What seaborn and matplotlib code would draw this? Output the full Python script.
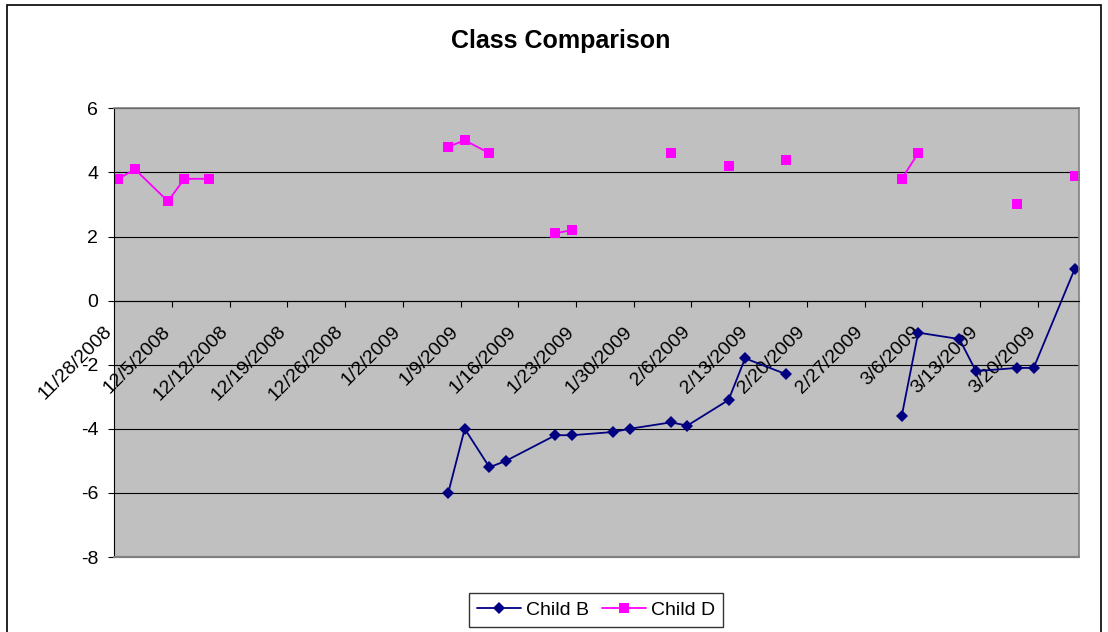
import numpy as np
import pandas as pd
import matplotlib
matplotlib.use("Agg")
import matplotlib.pyplot as plt
import seaborn as sns
from matplotlib.transforms import ScaledTranslation
from matplotlib.patches import Rectangle

# ---- data ----
dates = ["11/28/2008", "11/30/2008", "12/4/2008", "12/6/2008", "12/9/2008", "12/16/2008",
         "1/7/2009", "1/9/2009", "1/12/2009", "1/14/2009", "1/20/2009", "1/22/2009",
         "1/27/2009", "1/29/2009", "2/3/2009", "2/5/2009", "2/10/2009", "2/12/2009",
         "2/17/2009", "2/24/2009", "3/3/2009", "3/5/2009", "3/10/2009", "3/12/2009",
         "3/17/2009", "3/19/2009", "3/24/2009"]
nan = np.nan
child_b = [nan, nan, nan, nan, nan, nan,
           -6.0, -4.0, -5.2, -5.0, -4.2, -4.2,
           -4.1, -4.0, -3.8, -3.9, -3.1, -1.8,
           -2.3, nan, -3.6, -1.0, -1.2, -2.2,
           -2.1, -2.1, 1.0]
child_d = [3.8, 4.1, 3.1, 3.8, 3.8, nan,
           4.8, 5.0, 4.6, nan, 2.1, 2.2,
           nan, nan, 4.6, nan, 4.2, nan,
           4.4, nan, 3.8, 4.6, nan, nan,
           3.0, nan, 3.9]
series_names = ["Child B", "Child D"]
colors = {"Child B": "#000080", "Child D": "#FF00FF"}
markers = {"Child B": "D", "Child D": "s"}
msizes = {"D": 6.3, "s": 6.8}
y_ticks = [-8, -6, -4, -2, 0, 2, 4, 6]
x_start, x_end = "2008-11-28", "2009-03-25"
title = "Class Comparison"

# ---- build long table, with line breaks where a row is empty ----
frames = []
for name, vals in zip(series_names, [child_b, child_d]):
    s = pd.Series(vals, dtype=float)
    seg = s.isna().cumsum()
    d = pd.DataFrame({
        "date": pd.to_datetime(dates, format="%m/%d/%Y") + pd.Timedelta(hours=12),
        "value": s, "seg": seg, "child": name})
    frames.append(d.dropna(subset=["value"]))
df = pd.concat(frames, ignore_index=True)
df["unit"] = df["child"] + "_" + df["seg"].astype(str)

sns.set_theme(style="white")
plt.rcParams["font.family"] = ["Liberation Sans", "DejaVu Sans"]
plt.rcParams.update({"text.color": "black", "xtick.color": "black",
                     "ytick.color": "black", "axes.edgecolor": "black",
                     "axes.unicode_minus": False})

W, H = 1108, 632
fig = plt.figure(figsize=(W / 100, H / 100), dpi=100)
L, R, T, B = 114.3, 1079.0, 108.3, 557.0
ax = fig.add_axes([L / W, 1 - B / H, (R - L) / W, (B - T) / H])
ax.set_facecolor("#C0C0C0")

sns.lineplot(data=df, x="date", y="value", hue="child", style="child",
             units="unit", estimator=None, sort=False,
             palette=colors, markers=markers, dashes=False,
             linewidth=1.3, markeredgewidth=0, ax=ax)

for ln in ax.lines:
    m = ln.get_marker()
    if m in msizes:
        ln.set_markersize(msizes[m])

ax.set_xlim(pd.Timestamp(x_start), pd.Timestamp(x_end))
ax.set_ylim(-8, 6)
ax.set_yticks(y_ticks)
ticks = pd.date_range("2008-11-28", "2009-03-20", freq="7D")
ax.set_xticks(ticks)
ax.set_xticklabels([f"{d.month}/{d.day}/{d.year}" for d in ticks])
ax.set_xlabel("")
ax.set_ylabel("")

ax.set_axisbelow(True)
ax.yaxis.grid(True, color="black", linewidth=0.8)
ax.xaxis.grid(False)

ax.spines["bottom"].set_position(("data", 0))
ax.spines["bottom"].set_color("black")
ax.spines["bottom"].set_linewidth(0.8)
ax.spines["left"].set_color("black")
ax.spines["left"].set_linewidth(0.8)
for sp in ["top", "right"]:
    ax.spines[sp].set_color("#808080")
    ax.spines[sp].set_linewidth(1.2)
ax.axhline(-8, color="#808080", linewidth=1.6, clip_on=False, zorder=3)

ax.tick_params(axis="x", bottom=True, direction="out", length=4.3, width=0.8,
               color="black", pad=11.9, labelsize=14)
ax.tick_params(axis="y", left=True, direction="out", length=4.3, width=0.8,
               color="black", pad=7.2, labelsize=14)
plt.setp(ax.get_xticklabels(), rotation=45, ha="right", va="top",
         rotation_mode="anchor")
offset = ScaledTranslation(-10.5 / 100, 0, fig.dpi_scale_trans)
for lbl in ax.get_xticklabels():
    lbl.set_transform(lbl.get_transform() + offset)

# legend
handles, labels = ax.get_legend_handles_labels()
if ax.get_legend() is not None:
    ax.get_legend().remove()
for h in handles:
    try:
        m = h.get_marker()
        if m in msizes:
            h.set_markersize(msizes[m])
        h.set_markeredgewidth(0)
        h.set_linewidth(1.3)
    except Exception:
        pass
leg = fig.legend(handles, labels, loc="center",
                 bbox_to_anchor=(596 / W, 1 - 610 / H), ncol=2, frameon=True,
                 fancybox=False, edgecolor="black", fontsize=14,
                 handlelength=2.27, handletextpad=0.26, columnspacing=0.67,
                 borderpad=0.42, borderaxespad=0)
leg.get_frame().set_linewidth(1.0)
leg.get_frame().set_facecolor("white")

fig.text(560.5 / W, 1 - 48.3 / H, title, ha="center", va="baseline",
         fontsize=18, fontweight="bold")

fig.patches.append(Rectangle((7.3 / W, -0.01), (1101 - 7.3) / W, 1 - 5 / H + 0.01,
                             transform=fig.transFigure, fill=False,
                             edgecolor="black", linewidth=1.2))

fig.savefig("out.png", dpi=100)
